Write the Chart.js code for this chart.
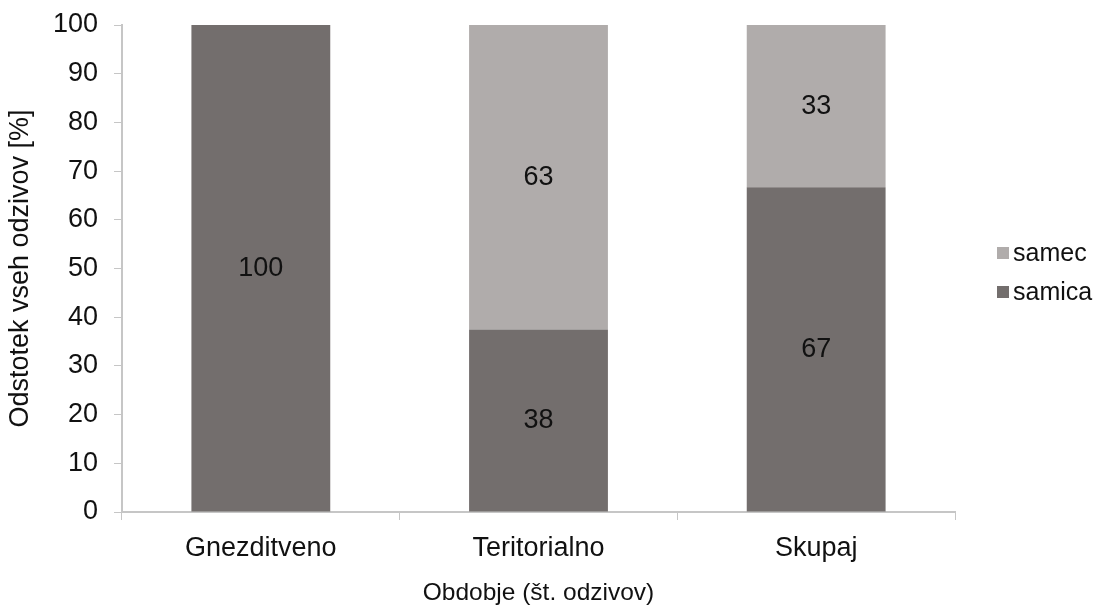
<!DOCTYPE html>
<html>
<head>
<meta charset="utf-8">
<script src="https://cdn.jsdelivr.net/npm/chart.js@4/dist/chart.umd.min.js"></script>
<style>
  html, body { margin: 0; padding: 0; background: #fff; }
  #wrap { width: 1094px; height: 605px; position: relative; }
</style>
</head>
<body>
<div id="wrap"><canvas id="chart"></canvas></div>
<script>
// data
const categories = ['Gnezditveno', 'Teritorialno', 'Skupaj'];
const samica = [100, 37.5, 66.7];
const samec = [0, 62.5, 33.3];
const yTicks = [0, 10, 20, 30, 40, 50, 60, 70, 80, 90, 100];

const axisColor = '#c6c6c6';
const textColor = '#111';
const fontFamily = '"Liberation Sans", Arial, sans-serif';

// value labels in the middle of each bar segment
const barLabels = {
  id: 'barLabels',
  afterDatasetsDraw(chart) {
    const ctx = chart.ctx;
    ctx.save();
    ctx.font = '27px ' + fontFamily;
    ctx.fillStyle = textColor;
    ctx.textAlign = 'center';
    ctx.textBaseline = 'middle';
    chart.data.datasets.forEach((ds, i) => {
      const meta = chart.getDatasetMeta(i);
      meta.data.forEach((bar, j) => {
        const v = ds.data[j];
        if (!v) return;
        ctx.fillText(Math.round(v), bar.x, (bar.y + bar.base) / 2);
      });
    });
    ctx.restore();
  }
};

// Excel-like legend to the right: small square, text close to it
const sideLegend = {
  id: 'sideLegend',
  afterDraw(chart) {
    const ctx = chart.ctx;
    const area = chart.chartArea;
    const items = chart.data.datasets.slice().reverse();
    const x = area.right + 42;
    const rowGap = 39;
    const midY = (area.top + area.bottom) / 2 + 4;
    const y0 = midY - rowGap * (items.length - 1) / 2;
    ctx.save();
    ctx.font = '25px ' + fontFamily;
    ctx.textBaseline = 'middle';
    ctx.textAlign = 'left';
    items.forEach((ds, i) => {
      const y = y0 + i * rowGap;
      ctx.fillStyle = ds.backgroundColor;
      ctx.fillRect(x, y - 6, 12, 12);
      ctx.fillStyle = textColor;
      ctx.fillText(ds.label, x + 16, y + 1);
    });
    ctx.restore();
  }
};

new Chart(document.getElementById('chart'), {
  type: 'bar',
  data: {
    labels: categories,
    datasets: [{
      label: 'samica',
      data: samica,
      backgroundColor: '#736e6d'
    }, {
      label: 'samec',
      data: samec,
      backgroundColor: '#b0acab'
    }]
  },
  options: {
    responsive: true,
    maintainAspectRatio: false,
    animation: false,
    categoryPercentage: 1,
    barPercentage: 0.5,
    layout: { padding: { top: 25, right: 139, left: 0, bottom: 0 } },
    scales: {
      x: {
        stacked: true,
        afterFit: scale => { scale.height = 93; },
        grid: { drawOnChartArea: false, color: axisColor, tickLength: 8, offset: true },
        border: { color: axisColor, width: 2 },
        ticks: { color: textColor, font: { family: fontFamily, size: 27 }, padding: 12 },
        title: {
          display: true,
          text: 'Obdobje (št. odzivov)',
          color: textColor,
          font: { family: fontFamily, size: 24.5, lineHeight: 1 },
          padding: { top: 6, bottom: 0 }
        }
      },
      y: {
        stacked: true,
        min: 0,
        max: 100,
        afterFit: scale => {
          scale.width = 122;
          scale.paddingTop = 0;
          scale.paddingBottom = 0;
        },
        afterBuildTicks: scale => { scale.ticks = yTicks.map(v => ({ value: v })); },
        grid: { drawOnChartArea: false, color: axisColor, tickLength: 8 },
        border: { color: axisColor, width: 2 },
        ticks: { color: textColor, font: { family: fontFamily, size: 27 }, padding: 16 },
        title: {
          display: true,
          text: 'Odstotek vseh odzivov [%]',
          color: textColor,
          font: { family: fontFamily, size: 27 },
          padding: { top: 4, bottom: 0 }
        }
      }
    },
    plugins: {
      legend: { display: false },
      tooltip: { enabled: false }
    }
  },
  plugins: [barLabels, sideLegend]
});
</script>
</body>
</html>
